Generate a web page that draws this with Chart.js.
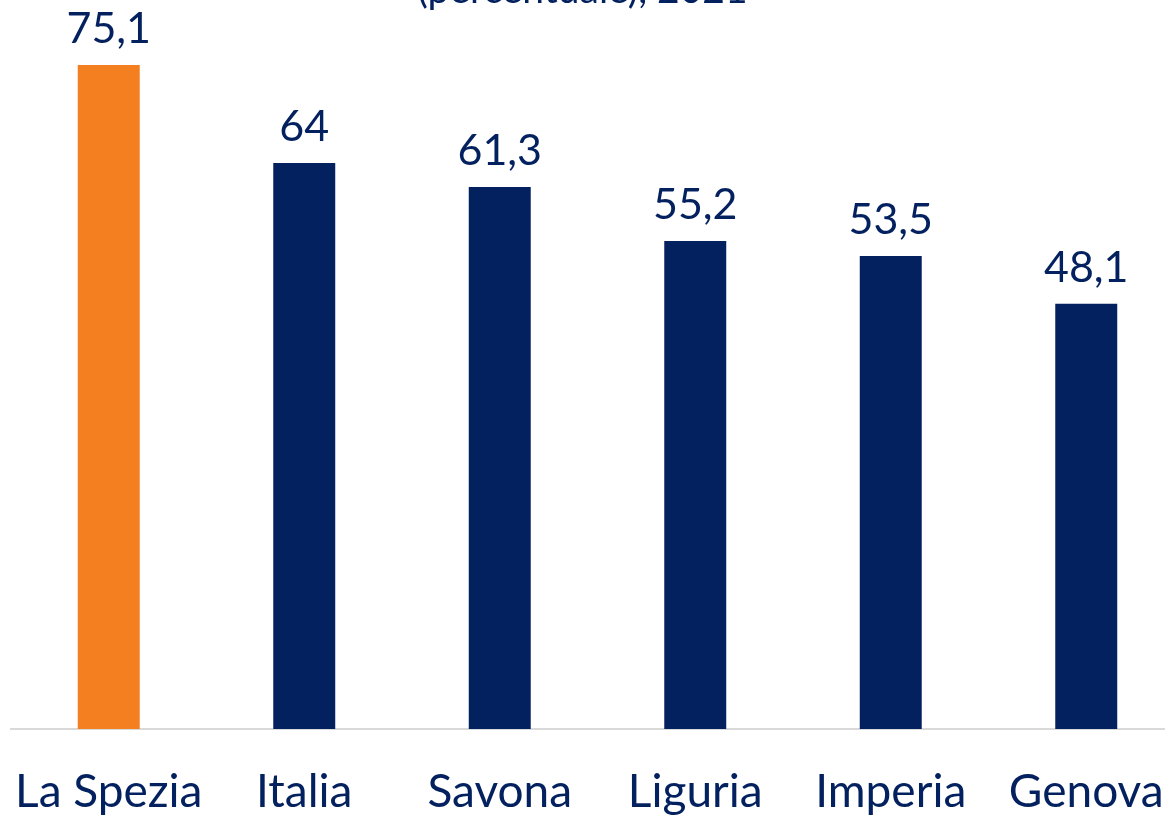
<!DOCTYPE html>
<html>
<head>
<meta charset="utf-8">
<script src="https://cdn.jsdelivr.net/npm/chart.js@4/dist/chart.umd.min.js"></script>
<style>
  html, body { margin: 0; padding: 0; background: #ffffff; overflow: hidden; width: 1165px; height: 818px; }
  #wrap { position: absolute; left: 0; top: -33px; }
</style>
</head>
<body>
<div id="wrap"><canvas id="c" width="1190" height="856"></canvas></div>
<script>
const categories = ['La Spezia', 'Italia', 'Savona', 'Liguria', 'Imperia', 'Genova'];
const values = [75.1, 64, 61.3, 55.2, 53.5, 48.1];
const barColors = ['#F47F20', '#03205F', '#03205F', '#03205F', '#03205F', '#03205F'];
const titleText = '(percentuale), 2021\u00A0\u00A0\u00A0';

const NAVY = '#03205F';
const FONT = 'Lato';

const valueLabels = {
  id: 'valueLabels',
  afterDatasetsDraw(chart) {
    const ctx = chart.ctx;
    const meta = chart.getDatasetMeta(0);
    ctx.save();
    ctx.font = '43px ' + FONT;
    ctx.fillStyle = NAVY;
    ctx.textAlign = 'center';
    ctx.textBaseline = 'alphabetic';
    meta.data.forEach((bar, i) => {
      const txt = String(values[i]).replace('.', ',');
      ctx.fillText(txt, bar.x, bar.y - 22);
    });
    ctx.restore();
  }
};

new Chart(document.getElementById('c'), {
  type: 'bar',
  data: {
    labels: categories,
    datasets: [{
      data: values,
      backgroundColor: barColors,
      borderWidth: 0,
      barPercentage: 0.317,
      categoryPercentage: 1
    }]
  },
  options: {
    responsive: false,
    animation: false,
    devicePixelRatio: 1,
    layout: { padding: { left: 11, right: 6, top: 0, bottom: 2.8 } },
    plugins: {
      legend: { display: false },
      tooltip: { enabled: false },
      title: {
        display: true,
        text: titleText,
        color: NAVY,
        font: { family: FONT, size: 39, weight: 'normal', lineHeight: 1.2 },
        padding: { top: 0, bottom: 7.8 }
      }
    },
    scales: {
      x: {
        grid: { display: false, drawTicks: true, tickLength: 36 },
        border: { display: true, color: '#D9D9D9', width: 2 },
        ticks: { color: NAVY, font: { family: FONT, size: 46, lineHeight: 1.2 }, padding: 0, maxRotation: 0, autoSkip: false }
      },
      y: {
        display: false,
        min: 0,
        max: 80
      }
    }
  },
  plugins: [valueLabels]
});
</script>
</body>
</html>
